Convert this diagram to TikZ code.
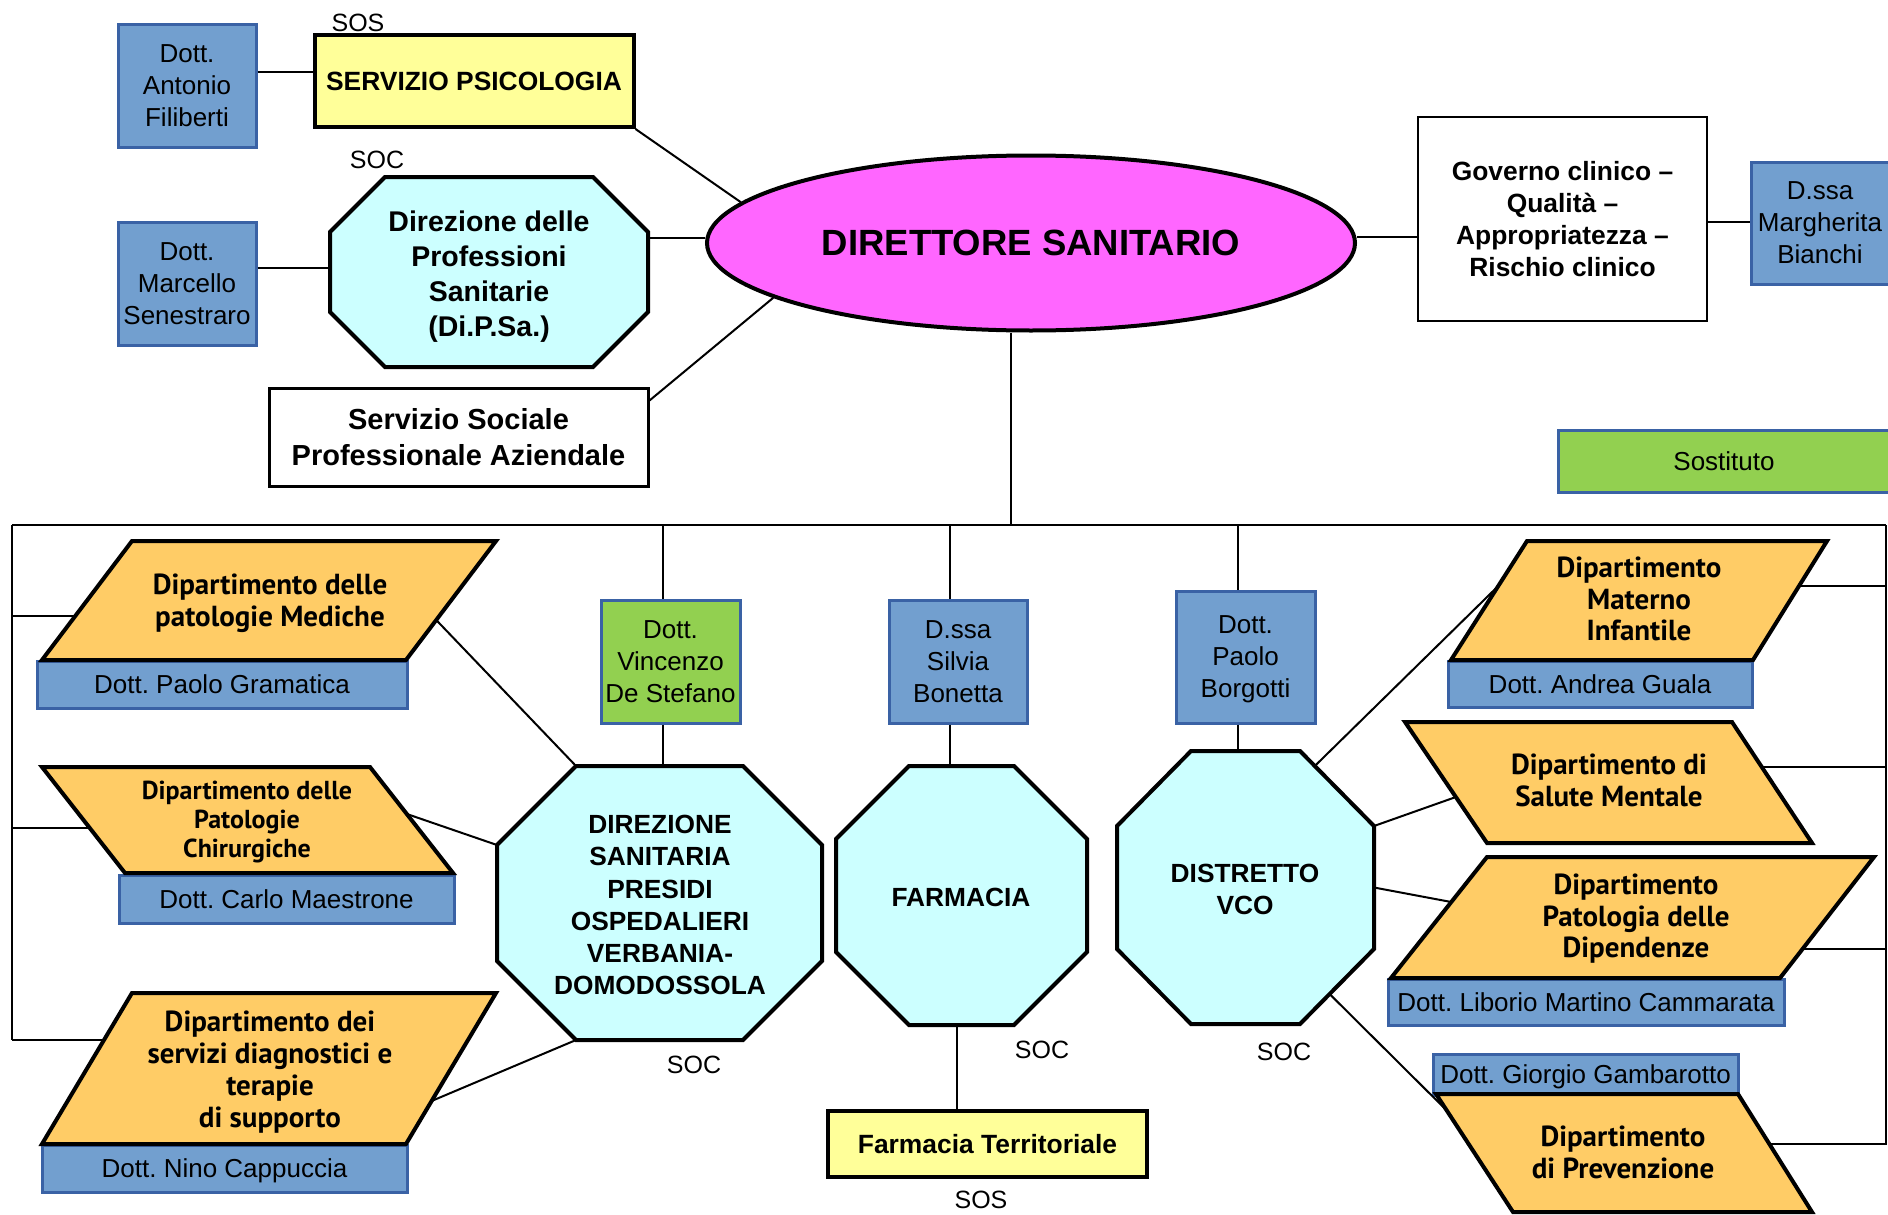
\documentclass[tikz,border=0pt]{standalone}
\usepackage{fontspec}
\setmainfont{Liberation Sans}
\newfontfamily\deptfont{PT Sans}
\usetikzlibrary{shapes.geometric,calc}
\frenchspacing

\definecolor{bluefill}{RGB}{114,159,207}
\definecolor{bluebd}{RGB}{58,98,165}
\definecolor{greenfill}{RGB}{146,208,80}
\definecolor{yellowfill}{RGB}{255,255,153}
\definecolor{cyanfill}{RGB}{204,255,255}
\definecolor{orangefill}{RGB}{255,204,102}
\definecolor{magentafill}{RGB}{255,102,255}

\tikzset{
  conn/.style={draw=black, line width=2pt},
  bluebox/.style={draw=bluebd, fill=bluefill, line width=3pt, inner sep=0pt, align=center, text=black,
    text depth=0pt, font=\frenchspacing\fontsize{26}{32}\selectfont},
  greenbox/.style={bluebox, fill=greenfill},
  namebar/.style={bluebox, font=\frenchspacing\fontsize{26}{30}\selectfont},
  yellowbox/.style={draw=black, fill=yellowfill, line width=4pt, inner sep=0pt, align=center, text depth=0pt,
    font=\bfseries\fontsize{26.4}{32}\selectfont},
  whitebox/.style={draw=black, fill=white, line width=2.5pt, inner sep=0pt, align=center, text depth=0pt,
    font=\bfseries\fontsize{26.4}{32}\selectfont},
  deptshape/.style={draw=black, fill=orangefill, line width=4pt, line join=miter},
  octshape/.style={draw=black, fill=cyanfill, line width=4pt, line join=miter},
  depttxt/.style={align=center, inner sep=0pt, text depth=0pt, font=\deptfont\bfseries\fontsize{29}{31.5}\selectfont},
  octtxt/.style={align=center, inner sep=0pt, text depth=0pt, font=\bfseries\fontsize{26.3}{32.3}\selectfont},
  lbl/.style={inner sep=0pt, font=\fontsize{25}{30}\selectfont},
}

\newcommand\mkpara[7]{%
  \coordinate (#1-tl) at (#2,#4);
  \coordinate (#1-tr) at (#3,#4);
  \coordinate (#1-bl) at (#5,#7);
  \coordinate (#1-br) at (#6,#7);
  \path[deptshape] (#1-tl) -- (#1-tr) -- (#1-br) -- (#1-bl) -- cycle;
}
\newcommand\mkoct[7]{%
  \coordinate (#1-n1) at ({#2+#6},#4);
  \coordinate (#1-n2) at ({#3-#6},#4);
  \coordinate (#1-e1) at (#3,{#4+#7});
  \coordinate (#1-e2) at (#3,{#5-#7});
  \coordinate (#1-s2) at ({#3-#6},#5);
  \coordinate (#1-s1) at ({#2+#6},#5);
  \coordinate (#1-w2) at (#2,{#5-#7});
  \coordinate (#1-w1) at (#2,{#4+#7});
  \path[octshape] (#1-n1) -- (#1-n2) -- (#1-e1) -- (#1-e2) -- (#1-s2) -- (#1-s1) -- (#1-w2) -- (#1-w1) -- cycle;
}

\begin{document}
\begin{tikzpicture}[x=1pt,y=-1pt]
\useasboundingbox (0,0) rectangle (1888,1215);
\clip (0,0) rectangle (1888,1215);
\fill[white] (0,0) rectangle (1888,1215);

% ---------- bus lines ----------
\coordinate (busL) at (12,525);
\coordinate (busR) at (1886,525);
\coordinate (busLb) at (12,1040);
\coordinate (busRb) at (1886,1145);
\coordinate (busc) at (1011,525);
\draw[conn] (busL) -- (busR);
\draw[conn] (busL) -- (busLb);
\draw[conn] (busR) -- (busRb);

% ---------- top left ----------
\node[bluebox, minimum width=138pt, minimum height=122pt] (fil) at (187,86) {Dott.\\Antonio\\Filiberti};
\node[yellowbox, minimum width=319pt, minimum height=92pt] (psi) at (474,81) {SERVIZIO PSICOLOGIA};
\node[lbl] (sos1) at (358,23) {SOS};
\node[lbl] (soc1) at (377,160) {SOC};
\node[bluebox, minimum width=138pt, minimum height=123pt] (mar) at (187,283.5) {Dott.\\Marcello\\Senestraro};
\mkoct{dp}{330}{648}{177}{367}{55}{55}
\node[octtxt, font=\bfseries\fontsize{28.5}{35}\selectfont] (dpt) at (489,274) {Direzione delle\\Professioni\\Sanitarie\\(Di.P.Sa.)};
\node[whitebox, line width=3pt, font=\bfseries\fontsize{29}{36}\selectfont, minimum width=379pt, minimum height=98pt] (soc) at (458.5,437) {Servizio Sociale\\Professionale Aziendale};

% ---------- director ----------
\node[ellipse, draw=black, fill=magentafill, line width=4pt, minimum width=648pt, minimum height=175pt, inner sep=0pt,
  font=\bfseries\fontsize{36.5}{40}\selectfont] (dir) at (1031,243) {DIRETTORE SANITARIO};
\node[whitebox, minimum width=289pt, minimum height=204pt] (gov) at (1562.5,219) {Governo clinico –\\Qualità –\\Appropriatezza –\\Rischio clinico};
\node[bluebox, minimum width=138pt, minimum height=122pt] (marg) at (1820,223) {D.ssa\\Margherita\\Bianchi};
\node[greenbox, minimum width=332pt, minimum height=62pt] (sost) at (1724,461.5) {Sostituto};

% connectors top
\draw[conn] ([yshift=14pt]fil.east) -- ([yshift=14pt]fil.east -| psi.west);
\draw[conn] ([yshift=15.5pt]mar.east) -- ([yshift=15.5pt]mar.east -| dp-w1);
\draw[conn] ([yshift=5pt]dir.west) -- ([yshift=5pt]dir.west -| dp-e1);
\draw[conn] (psi.south east) -- (dir.172.6);
\draw[conn] ($(soc.north east)+(0,14)$) -- (dir.192.8);
\draw[conn] ([yshift=6pt]dir.east) -- ([yshift=6pt]dir.east -| gov.west);
\draw[conn] ([yshift=-3pt]gov.east) -- ([yshift=-3pt]gov.east -| marg.west);
\draw[conn] (dir.south -| busc) -- (busc);

% ---------- middle column ----------
\node[greenbox, minimum width=139pt, minimum height=123pt] (vin) at (670.5,661.5) {Dott.\\Vincenzo\\De Stefano};
\node[bluebox, minimum width=138pt, minimum height=123pt] (sil) at (958,661.5) {D.ssa\\Silvia\\Bonetta};
\node[bluebox, minimum width=139pt, minimum height=132pt] (bor) at (1245.5,657) {Dott.\\Paolo\\Borgotti};

\mkoct{ds}{497}{822}{766}{1040}{79}{79}
\node[octtxt] (dst) at (660,905) {DIREZIONE\\SANITARIA\\PRESIDI\\OSPEDALIERI\\VERBANIA-\\DOMODOSSOLA};
\mkoct{fa}{836}{1087}{766}{1025}{73}{73}
\node[octtxt] (fat) at (961,897) {FARMACIA};
\mkoct{dt}{1117}{1374}{751}{1024}{74}{75}
\node[octtxt] (dtt) at (1245,889) {DISTRETTO\\VCO};

\node[yellowbox, minimum width=319pt, minimum height=66pt] (ter) at (987.5,1144) {Farmacia Territoriale};
\node[lbl] (soc2) at (694,1065) {SOC};
\node[lbl] (soc3) at (1042,1050) {SOC};
\node[lbl] (soc4) at (1284,1052) {SOC};
\node[lbl] (sos2) at (981,1200) {SOS};

\coordinate (dv) at (663,525);
\coordinate (fv) at (950,525);
\coordinate (pv) at (1238,525);
\coordinate (fdrop) at (957,1025);
\draw[conn] (dv) -- (dv |- vin.north);
\draw[conn] (dv |- vin.south) -- (dv |- ds-n1);
\draw[conn] (fv) -- (fv |- sil.north);
\draw[conn] (fv |- sil.south) -- (fv |- fa-n1);
\draw[conn] (pv) -- (pv |- bor.north);
\draw[conn] (pv |- bor.south) -- (pv |- dt-n1);
\draw[conn] (fdrop) -- (fdrop |- ter.north);

% ---------- left departments ----------
\node[namebar, minimum width=370pt, minimum height=47pt] (gra) at (222,684.5) {Dott. Paolo Gramatica};
\mkpara{L1}{132}{496}{541}{42}{406}{660}
\node[depttxt] (L1t) at (270,600) {Dipartimento delle\\patologie Mediche};

\node[namebar, minimum width=335pt, minimum height=48pt] (mae) at (286.5,899) {Dott. Carlo Maestrone};
\mkpara{L2}{42}{370}{767}{125}{453}{873}
\node[depttxt, font=\deptfont\bfseries\fontsize{26}{29}\selectfont] (L2t) at (247,819) {Dipartimento delle\\Patologie\\Chirurgiche};

\node[namebar, minimum width=365pt, minimum height=47pt] (cap) at (224.5,1168.5) {Dott. Nino Cappuccia};
\mkpara{L3}{132}{496}{993}{42}{406}{1144}
\node[depttxt, font=\deptfont\bfseries\fontsize{29}{32}\selectfont] (L3t) at (270,1069) {Dipartimento dei\\servizi diagnostici e\\terapie\\di supporto};

\coordinate (L1-l) at ($(L1-tl)!0.63!(L1-bl)$);
\coordinate (L2-l) at ($(L2-tl)!0.575!(L2-bl)$);
\coordinate (L3-l) at ($(L3-tl)!0.311!(L3-bl)$);
\draw[conn] (L1-l -| busL) -- (L1-l);
\draw[conn] (L2-l -| busL) -- (L2-l);
\draw[conn] (L3-l -| busL) -- (L3-l);
\coordinate (L1-r) at ($(L1-tr)!0.664!(L1-br)$);
\coordinate (L2-r) at ($(L2-tr)!0.443!(L2-br)$);
\coordinate (L3-r) at ($(L3-tr)!0.715!(L3-br)$);
\draw[conn] (L1-r) -- (ds-n1);
\draw[conn] (L2-r) -- (ds-w1);
\draw[conn] (L3-r) -- (ds-s1);

% ---------- right departments ----------
\node[namebar, minimum width=304pt, minimum height=46pt] (gua) at (1600,684) {Dott. Andrea Guala};
\mkpara{R1}{1527}{1827}{541}{1451}{1753}{660}
\node[depttxt] (R1t) at (1639,599) {Dipartimento\\Materno\\Infantile};

\mkpara{R2}{1405}{1732}{722}{1487}{1812}{843}
\node[depttxt] (R2t) at (1609,780) {Dipartimento di\\Salute Mentale};

\node[namebar, minimum width=396pt, minimum height=46pt] (cam) at (1586,1002) {Dott. Liborio Martino Cammarata};
\mkpara{R3}{1487}{1874}{857}{1391}{1780}{978}
\node[depttxt] (R3t) at (1636,916) {Dipartimento\\Patologia delle\\Dipendenze};

\node[namebar, minimum width=305pt, minimum height=41pt] (gam) at (1585.5,1074.5) {Dott. Giorgio Gambarotto};
\mkpara{R4}{1436}{1738}{1094}{1513}{1812}{1212}
\node[depttxt] (R4t) at (1623,1152) {Dipartimento\\di Prevenzione};

\coordinate (R1-r) at ($(R1-tr)!0.378!(R1-br)$);
\coordinate (R2-r) at ($(R2-tr)!0.372!(R2-br)$);
\coordinate (R3-r) at ($(R3-tr)!0.76!(R3-br)$);
\coordinate (R4-r) at ($(R4-tr)!0.426!(R4-br)$);
\draw[conn] (R1-r) -- (R1-r -| busR);
\draw[conn] (R2-r) -- (R2-r -| busR);
\draw[conn] (R3-r) -- (R3-r -| busR);
\draw[conn] (R4-r) -- (R4-r -| busR);

\coordinate (R1-l) at ($(R1-tl)!0.378!(R1-bl)$);
\coordinate (R2-l) at ($(R2-tl)!0.62!(R2-bl)$);
\coordinate (R3-l) at ($(R3-tl)!0.372!(R3-bl)$);
\coordinate (R4-l) at ($(R4-tl)!0.14!(R4-bl)$);
\draw[conn] ($(dt-n2)!0.2!(dt-e1)$) -- (R1-l);
\draw[conn] (dt-e1) -- (R2-l);
\draw[conn] ($(dt-e1)!0.5!(dt-e2)$) -- (R3-l);
\draw[conn] ($(dt-e2)!0.6!(dt-s2)$) -- (R4-l);
\end{tikzpicture}
\end{document}
